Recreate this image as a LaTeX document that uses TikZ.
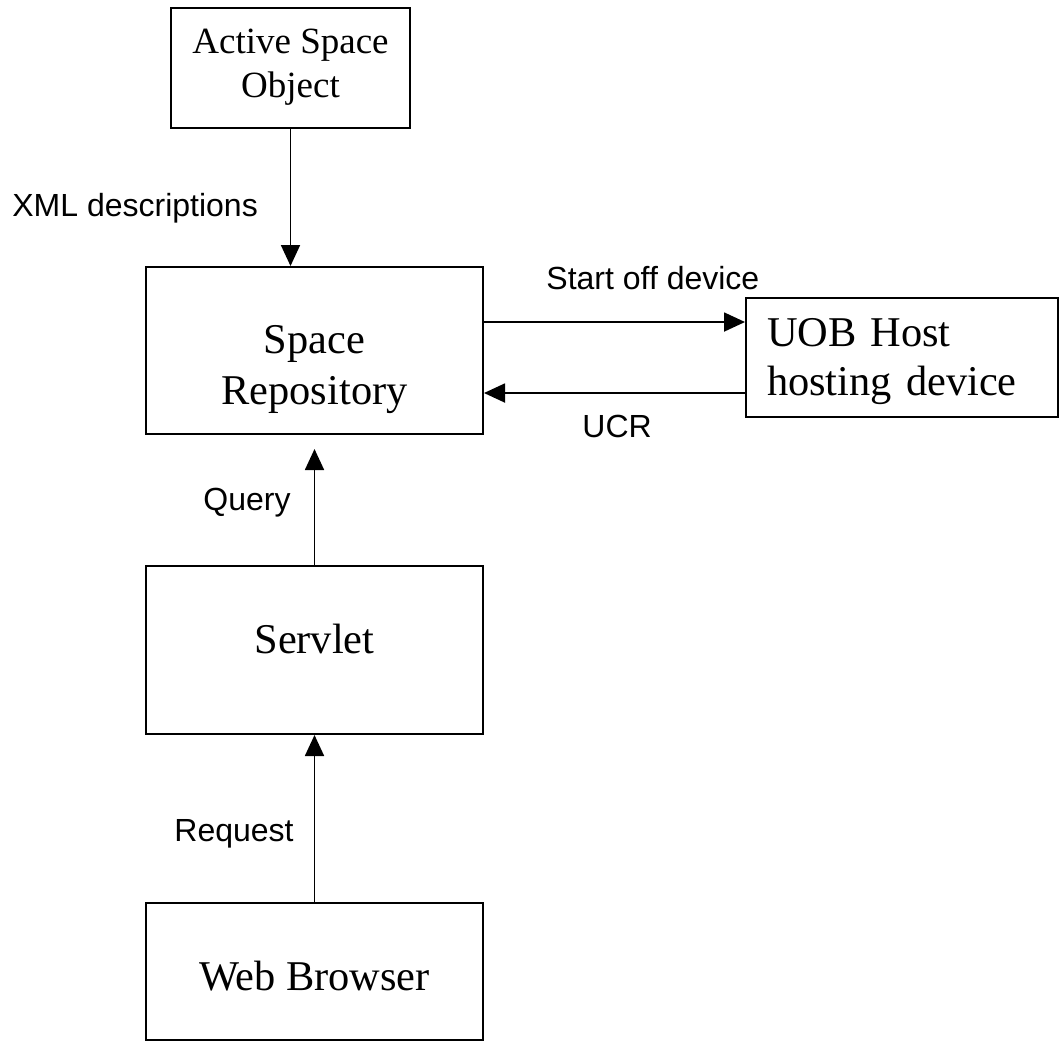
\documentclass[tikz,border=0pt]{standalone}
\usepackage{fontspec}
\setmainfont{Liberation Serif}
\newfontfamily\tagfont{Liberation Sans}
\usepackage{tikz}
\usetikzlibrary{arrows.meta,positioning,calc}

\begin{document}
\begin{tikzpicture}[
  x=0.5pt, y=-0.5pt,
  block/.style={rectangle, draw=black, line width=1pt, minimum width=168.5pt, inner xsep=0pt, inner ysep=0pt, align=center, font=\fontsize{21.2}{25.5}\selectfont},
  small block/.style={block, minimum width=119.5pt, font=\fontsize{18.5}{22}\selectfont},
  tag/.style={anchor=base west, inner sep=0pt, font=\tagfont\fontsize{16}{19}\selectfont},
  flow/.style={-{Triangle[length=10.5pt, width=9.5pt]}, line width=0.9pt}
]
\useasboundingbox (0,0) rectangle (1063,1046);
\node[small block, minimum height=60pt, text height=44.5pt, text depth=15.5pt] (aso) at (290.5,68) {Active Space\\Object};
\node[block, minimum height=83.5pt, text height=68.5pt, text depth=15pt] (repo) at (314.5,350.5) {Space\\Repository};
\node[block, minimum width=156pt, minimum height=59.5pt, text width=135pt, inner xsep=10.5pt, align=left, text height=24pt, text depth=35.5pt, font=\fontsize{21.2}{24.5}\selectfont] (uob) at (902,357.5) {UOB Host\\hosting device};
\node[block, minimum height=84pt, text height=43.5pt, text depth=40.5pt] (srv) at (314.5,650) {Servlet};
\node[block, minimum height=68.5pt, text height=43.5pt, text depth=25pt] (web) at (314.5,971.5) {Web Browser};
\draw[flow] (aso.south) -- (aso.south |- repo.north);
\draw[flow] (repo.east |- 0,322) -- (uob.west |- 0,322);
\draw[flow] (uob.west |- 0,393) -- (repo.east |- 0,393);
\draw[flow] (srv.north) -- ([yshift=-7pt]repo.south);
\draw[flow] (web.north) -- (srv.south);
\node[tag] (xml) at (12,216) {XML descriptions};
\node[tag] (sod) at (546,289) {Start off device};
\node[tag] (ucr) at (582,437) {UCR};
\node[tag] (qry) at (203,510) {Query};
\node[tag] (req) at (174,841) {Request};
\end{tikzpicture}
\end{document}
